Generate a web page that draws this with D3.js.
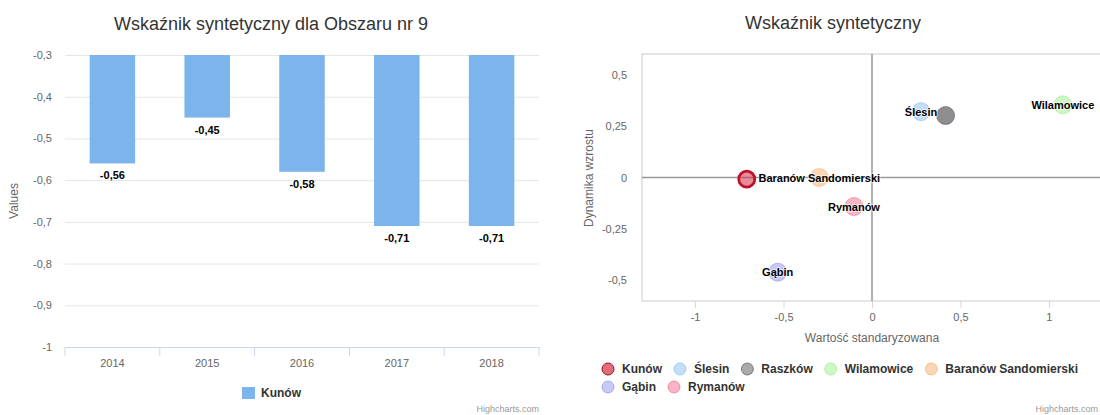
<!DOCTYPE html>
<html lang="pl">

<head>
  <meta charset="UTF-8">
  <script src="https://cdn.jsdelivr.net/npm/d3@7"></script>
  <title>Wskaźnik syntetyczny</title>
  <style>
    body { margin: 0; background: #fff; }
    svg { font-family: "Liberation Sans", Arial, sans-serif; display: block; }
  </style>
</head>

<body>
  <script>
  // Wykres słupkowy: Kunów w latach
  const lata = ["2014", "2015", "2016", "2017", "2018"];
  const kunowWartosci = [-0.56, -0.45, -0.58, -0.71, -0.71];
  const slupkiTicks = [-0.3, -0.4, -0.5, -0.6, -0.7, -0.8, -0.9, -1];

  // Wykres punktowy: gminy obszaru
  const gminy = ["Kunów", "Ślesin", "Raszków", "Wilamowice", "Baranów Sandomierski", "Gąbin", "Rymanów"];
  const standaryzowana = [-0.708, 0.277, 0.416, 1.079, -0.298, -0.533, -0.102];
  const dynamika = [-0.008, 0.320, 0.301, 0.353, 0.000, -0.460, -0.141];
  const gminyKolory = ["#d62d45", "#7cb5ec", "#434348", "#90ed7d", "#f7a35c", "#8085e9", "#f15c80"];
  const podpisaneGminy = ["Ślesin", "Wilamowice", "Baranów Sandomierski", "Rymanów", "Gąbin"];
  const xTicks = [-1, -0.5, 0, 0.5, 1];
  const yTicks = [0.5, 0.25, 0, -0.25, -0.5];

  const pl = d3.formatLocale({ decimal: ",", thousands: " ", grouping: [3], currency: ["", " zł"], minus: "-" });
  const fmt = pl.format(".2~f");

  const svg = d3.select("body")
    .append("svg")
    .attr("width", 1100)
    .attr("height", 415);

  // ---------- lewy wykres ----------
  const left = svg.append("g");

  const y = d3.scaleLinear().domain([-1, -0.3]).range([347, 55]);
  const x = d3.scaleBand().domain(lata).range([65, 539]).paddingInner(0.52).paddingOuter(0.26);

  left.append("text")
    .attr("x", 271).attr("y", 30)
    .attr("text-anchor", "middle")
    .attr("font-size", 18).attr("fill", "#333")
    .text("Wskaźnik syntetyczny dla Obszaru nr 9");

  // linie siatki + etykiety osi Y
  const yAxis = left.append("g")
    .attr("transform", "translate(65,0)")
    .call(d3.axisLeft(y).tickValues(slupkiTicks).tickFormat(fmt).tickSize(-474).tickPadding(13));
  yAxis.select(".domain").remove();
  yAxis.selectAll("line").attr("stroke", "#e6e6e6");
  yAxis.selectAll("text").attr("fill", "#666").attr("font-size", 11);

  left.append("text")
    .attr("transform", "translate(18,201) rotate(-90)")
    .attr("text-anchor", "middle")
    .attr("font-size", 12).attr("fill", "#666")
    .text("Values");

  // słupki od -0,3 w dół
  left.selectAll("rect.bar")
    .data(kunowWartosci)
    .enter()
    .append("rect")
    .attr("class", "bar")
    .attr("x", (d, i) => x(lata[i]))
    .attr("y", y(-0.3))
    .attr("width", x.bandwidth())
    .attr("height", d => y(d) - y(-0.3))
    .attr("fill", "#7cb5ec");

  left.selectAll("text.lbl")
    .data(kunowWartosci)
    .enter()
    .append("text")
    .attr("class", "lbl")
    .attr("x", (d, i) => x(lata[i]) + x.bandwidth() / 2)
    .attr("y", d => y(d) + 16)
    .attr("text-anchor", "middle")
    .attr("font-size", 11).attr("font-weight", "bold").attr("fill", "#000")
    .text(d => fmt(d));

  // oś X
  const xAxis = left.append("g")
    .attr("transform", "translate(0,347)")
    .call(d3.axisBottom(x).tickSize(0).tickPadding(12));
  xAxis.select(".domain").attr("stroke", "#ccd6eb");
  xAxis.selectAll("text").attr("fill", "#666").attr("font-size", 11);

  const granice = lata.map(d => x(d) - (x.step() - x.bandwidth()) / 2).concat([539]);
  left.selectAll("line.tick")
    .data(granice)
    .enter()
    .append("line")
    .attr("x1", d => d).attr("x2", d => d)
    .attr("y1", 347).attr("y2", 356)
    .attr("stroke", "#ccd6eb");

  // legenda
  left.append("rect")
    .attr("x", 242).attr("y", 387)
    .attr("width", 13).attr("height", 12)
    .attr("fill", "#7cb5ec");
  left.append("text")
    .attr("x", 261).attr("y", 397)
    .attr("font-size", 12).attr("font-weight", "bold").attr("fill", "#333")
    .text("Kunów");

  left.append("text")
    .attr("x", 539).attr("y", 412)
    .attr("text-anchor", "end")
    .attr("font-size", 9).attr("fill", "#999")
    .text("Highcharts.com");

  // ---------- prawy wykres ----------
  const right = svg.append("g");

  const sx = d3.scaleLinear().domain([-1.3, 1.3]).range([642, 1102]);
  const sy = d3.scaleLinear().domain([-0.6, 0.6]).range([301, 54]);

  right.append("text")
    .attr("x", 833).attr("y", 29)
    .attr("text-anchor", "middle")
    .attr("font-size", 18).attr("fill", "#333")
    .text("Wskaźnik syntetyczny");

  right.append("rect")
    .attr("x", sx(-1.3)).attr("y", sy(0.6))
    .attr("width", sx(1.3) - sx(-1.3)).attr("height", sy(-0.6) - sy(0.6))
    .attr("fill", "none").attr("stroke", "#cccccc");

  // linie zerowe
  right.append("line")
    .attr("x1", sx(0)).attr("x2", sx(0))
    .attr("y1", sy(0.6)).attr("y2", sy(-0.6))
    .attr("stroke", "#999").attr("stroke-width", 1.5);
  right.append("line")
    .attr("x1", sx(-1.3)).attr("x2", sx(1.3))
    .attr("y1", sy(0)).attr("y2", sy(0))
    .attr("stroke", "#999").attr("stroke-width", 1.5);

  const sxAxis = right.append("g")
    .attr("transform", "translate(0,301)")
    .call(d3.axisBottom(sx).tickValues(xTicks).tickFormat(fmt).tickSize(7).tickPadding(5));
  sxAxis.select(".domain").remove();
  sxAxis.selectAll("line").attr("stroke", "#ccd6eb");
  sxAxis.selectAll("text").attr("fill", "#666").attr("font-size", 11);

  const syAxis = right.append("g")
    .attr("transform", "translate(642,0)")
    .call(d3.axisLeft(sy).tickValues(yTicks).tickFormat(fmt).tickSize(0).tickPadding(15));
  syAxis.select(".domain").remove();
  syAxis.selectAll("text").attr("fill", "#666").attr("font-size", 11);

  right.append("text")
    .attr("x", 872).attr("y", 342)
    .attr("text-anchor", "middle")
    .attr("font-size", 12).attr("fill", "#666")
    .text("Wartość standaryzowana");

  right.append("text")
    .attr("transform", "translate(593,178) rotate(-90)")
    .attr("text-anchor", "middle")
    .attr("font-size", 12).attr("fill", "#666")
    .text("Dynamika wzrostu");

  // punkty
  right.selectAll("circle.pt")
    .data(gminy)
    .enter()
    .append("circle")
    .attr("class", "pt")
    .attr("cx", (d, i) => sx(standaryzowana[i]))
    .attr("cy", (d, i) => sy(dynamika[i]))
    .attr("r", (d, i) => i === 0 ? 8 : 9)
    .attr("fill", (d, i) => gminyKolory[i])
    .attr("fill-opacity", (d, i) => i === 0 ? 0.55 : (i === 2 ? 0.6 : 0.45))
    .attr("stroke", (d, i) => i === 0 ? "#c0102a" : gminyKolory[i])
    .attr("stroke-opacity", (d, i) => i === 0 ? 1 : 0.5)
    .attr("stroke-width", (d, i) => i === 0 ? 2.8 : 1);

  right.selectAll("text.dl")
    .data(gminy.filter(d => podpisaneGminy.includes(d)))
    .enter()
    .append("text")
    .attr("class", "dl")
    .attr("x", d => sx(standaryzowana[gminy.indexOf(d)]))
    .attr("y", d => sy(dynamika[gminy.indexOf(d)]) + 4)
    .attr("text-anchor", "middle")
    .attr("font-size", 11).attr("font-weight", "bold").attr("fill", "#000")
    .attr("stroke", "#fff").attr("stroke-width", 2).attr("stroke-opacity", 0.6)
    .attr("paint-order", "stroke")
    .text(d => d);

  // legenda w dwóch rzędach
  const legenda = right.append("g");
  let lx = 608, ly = 369;
  gminy.forEach((g, i) => {
    const item = legenda.append("g");
    const t = item.append("text")
      .attr("x", lx + 14).attr("y", ly + 4)
      .attr("font-size", 12).attr("font-weight", "bold").attr("fill", "#333")
      .text(g);
    const w = t.node().getComputedTextLength();
    if (lx + 14 + w > 1095) {
      lx = 608; ly += 18;
      t.attr("x", lx + 14).attr("y", ly + 4);
    }
    item.append("circle")
      .attr("cx", lx).attr("cy", ly).attr("r", 6)
      .attr("fill", gminyKolory[i])
      .attr("fill-opacity", i === 0 ? 0.7 : 0.45)
      .attr("stroke", i === 0 ? "#a0102a" : gminyKolory[i])
      .attr("stroke-opacity", i === 0 ? 1 : 0.6)
      .attr("stroke-width", 1);
    lx += 14 + w + 18;
  });

  right.append("text")
    .attr("x", 1098).attr("y", 412)
    .attr("text-anchor", "end")
    .attr("font-size", 9).attr("fill", "#999")
    .text("Highcharts.com");
  </script>
</body>
</html>
